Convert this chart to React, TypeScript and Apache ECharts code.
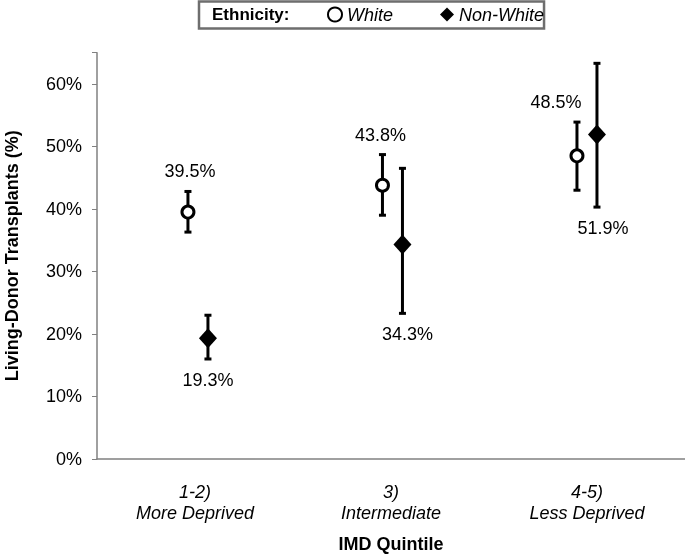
import React, { useEffect, useRef } from "react";
import * as echarts from "echarts";

const categories = ["1-2)\nMore Deprived", "3)\nIntermediate", "4-5)\nLess Deprived"];
const categoryPos = [0, 1, 2];
const whiteValues = [39.5, 43.8, 48.5];
const whiteLow = [36.3, 39.0, 43.0];
const whiteHigh = [42.8, 48.7, 53.9];
const nonWhiteValues = [19.3, 34.3, 51.9];
const nonWhiteLow = [16.0, 23.3, 40.3];
const nonWhiteHigh = [23.0, 46.5, 63.3];
const yTicks = [0, 10, 20, 30, 40, 50, 60];

const FONT = '"Liberation Sans", Arial, sans-serif';

function errorSeries(name: string, low: number[], high: number[], vals: number[], dx: number, labelAbove: boolean, labelDx: number[]) {
  return {
    type: "custom",
    name: name + "-err",
    xAxisIndex: 1,
    z: 2,
    data: low.map((l, i) => [categoryPos[i], l, high[i], vals[i]]),
    renderItem: (params: any, api: any) => {
      const i = api.value(0);
      const lo = api.coord([i, api.value(1)]);
      const hi = api.coord([i, api.value(2)]);
      const x = lo[0] + dx;
      const cap = 3.5;
      const ls = { stroke: "#000", lineWidth: 3 };
      const v = api.value(3);
      const ly = labelAbove ? hi[1] - 20 : lo[1] + 21;
      return {
        type: "group",
        children: [
          { type: "line", shape: { x1: x, y1: lo[1], x2: x, y2: hi[1] }, style: ls },
          { type: "line", shape: { x1: x - cap, y1: lo[1], x2: x + cap, y2: lo[1] }, style: ls },
          { type: "line", shape: { x1: x - cap, y1: hi[1], x2: x + cap, y2: hi[1] }, style: ls },
          {
            type: "text",
            style: {
              x: x + labelDx[params.dataIndex],
              y: ly,
              text: v.toFixed(1) + "%",
              fill: "#000",
              font: "18px " + FONT,
              align: "center",
              verticalAlign: "middle",
            },
          },
        ],
      };
    },
  };
}

export default function App() {
  const ref = useRef<HTMLDivElement>(null);
  useEffect(() => {
    const chart = echarts.init(ref.current!, null, { renderer: "svg" });
    chart.setOption({
      animation: false,
      grid: { left: 97, right: 0, top: 52.7, bottom: 97, outerBoundsMode: "none", containLabel: false },
      legend: {
        left: 199,
        top: 1.5,
        padding: [4, 0, 5, 128],
        borderColor: "#6e6e6e",
        borderWidth: 2.5,
        borderRadius: 0,
        itemGap: 47,
        itemWidth: 14,
        itemHeight: 14,
        textStyle: { fontFamily: FONT, fontSize: 18, fontStyle: "italic", color: "#000", padding: [0, 0, 0, 0] },
        data: ["White", "Non-White"],
      },
      graphic: [
        {
          type: "text",
          left: 212,
          top: 6,
          style: { text: "Ethnicity:", font: "bold 17px " + FONT, fill: "#000" },
        },
      ],
      xAxis: [
        {
          type: "category",
          data: categories,
          name: "IMD Quintile",
          nameLocation: "middle",
          nameGap: 76,
          nameTextStyle: { fontFamily: FONT, fontSize: 18, fontWeight: "bold", color: "#000" },
          axisLine: { onZero: false, lineStyle: { color: "#808080", width: 1.5 } },
          axisTick: { show: false },
          axisLabel: {
            fontFamily: FONT,
            fontSize: 18,
            fontStyle: "italic",
            color: "#000",
            margin: 22,
            lineHeight: 21,
          },
        },
        {
          type: "value",
          min: -0.519,
          max: 2.504,
          show: false,
          position: "bottom",
          axisLine: { onZero: false },
          splitLine: { show: false },
        },
      ],
      yAxis: {
        type: "value",
        min: 0,
        max: 65,
        interval: 10,
        position: "left",
        name: "Living-Donor Transplants (%)",
        nameLocation: "middle",
        nameGap: 76,
        nameTextStyle: { fontFamily: FONT, fontSize: 18, fontWeight: "bold", color: "#000" },
        splitLine: { show: false },
        axisLine: { show: true, onZero: false, lineStyle: { color: "#808080", width: 1.5 } },
        axisTick: { show: true, length: 5, lineStyle: { color: "#808080" } },
        axisLabel: {
          fontFamily: FONT,
          fontSize: 18,
          color: "#000",
          margin: 15,
          customValues: yTicks,
          formatter: (v: number) => v + "%",
        },
      },
      series: [
        errorSeries("White", whiteLow, whiteHigh, whiteValues, -10, true, [2, -2, -21]),
        errorSeries("Non-White", nonWhiteLow, nonWhiteHigh, nonWhiteValues, 10, false, [0, 5, 6]),
        {
          type: "scatter",
          name: "White",
          xAxisIndex: 1,
          z: 5,
          data: whiteValues.map((v, i) => [categoryPos[i], v]),
          symbol: "circle",
          symbolSize: 12,
          symbolOffset: [-10, 0],
          itemStyle: { color: "#fff", borderColor: "#000", borderWidth: 3, opacity: 1 },
        },
        {
          type: "scatter",
          name: "Non-White",
          xAxisIndex: 1,
          z: 5,
          data: nonWhiteValues.map((v, i) => [categoryPos[i], v]),
          symbol: "diamond",
          symbolSize: [18, 20],
          symbolOffset: [10, 0],
          itemStyle: { color: "#000", opacity: 1 },
        },
      ],
    });
    return () => chart.dispose();
  }, []);
  return <div ref={ref} style={{ position: "fixed", left: 0, top: 0, width: 685, height: 556 }} />;
}
